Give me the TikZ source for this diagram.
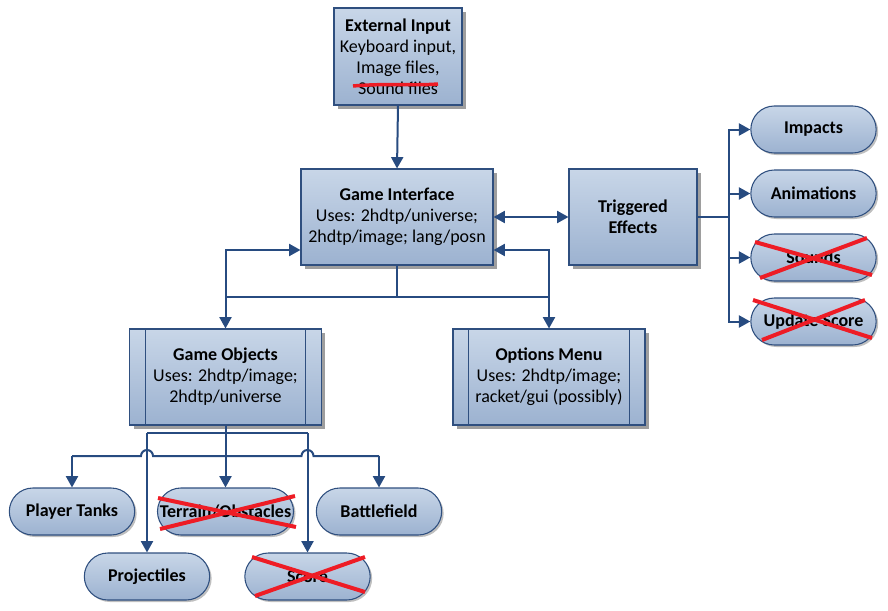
\documentclass[tikz,border=0pt]{standalone}
\usepackage{fontspec}
\setmainfont{Carlito}
\usetikzlibrary{arrows.meta,shapes.misc,shadows}
\definecolor{boxtop}{HTML}{C8D6E8}
\definecolor{boxbot}{HTML}{9CB2D0}
\definecolor{boxline}{HTML}{2F4F7F}
\definecolor{connc}{HTML}{274B80}
\definecolor{xred}{HTML}{EE1C25}
\tikzset{
  base/.style={draw=boxline, line width=0.8pt, top color=boxtop, bottom color=boxbot,
    align=center, text=black, inner sep=1pt,
    font=\fontsize{13.5}{15.75}\selectfont},
  boxn/.style={base, rectangle,
    drop shadow={shadow xshift=3pt, shadow yshift=-3pt, fill=black!38, opacity=1}},
  pill/.style={base, rounded rectangle, minimum width=96pt, minimum height=35.25pt,
    font=\fontsize{13.5}{15.75}\selectfont\bfseries,
    drop shadow={shadow xshift=1.5pt, shadow yshift=-1.5pt, fill=black!25, opacity=1}},
  conn/.style={draw=connc, line width=1.5pt},
  arr/.style={conn, -{Triangle[width=9pt,length=8.5pt]}},
  darr/.style={conn, {Triangle[width=9pt,length=8.5pt]}-{Triangle[width=9pt,length=8.5pt]}},
  redx/.style={draw=xred, line width=3pt},
  inner/.style={draw=boxline, line width=0.8pt}
}
\begin{document}
\begin{tikzpicture}[x=0.75pt,y=-0.75pt]
\useasboundingbox (0,0) rectangle (888,610);

% boxes
\node[boxn, minimum width=96pt, minimum height=72.75pt] (EI) at (398,56.5)
  {\textbf{External Input}\\Keyboard input,\\Image files,\\Sound files};
\node[boxn, minimum width=144pt, minimum height=72pt] (GI) at (397,217)
  {\textbf{Game Interface}\\Uses: 2hdtp/universe;\\2hdtp/image; lang/posn};
\node[boxn, minimum width=96pt, minimum height=72pt, font=\fontsize{13.5}{15.75}\selectfont\bfseries] (TE) at (633,217)
  {Triggered\\Effects};
\node[boxn, minimum width=143.5pt, minimum height=72pt] (GO) at (225.5,377)
  {\textbf{Game Objects}\\Uses: 2hdtp/image;\\2hdtp/universe};
\node[boxn, minimum width=144pt, minimum height=72pt] (OM) at (549,377)
  {\textbf{Options Menu}\\Uses: 2hdtp/image;\\racket/gui (possibly)};

\draw[inner] ([xshift=12pt]GO.north west) -- ([xshift=12pt]GO.south west);
\draw[inner] ([xshift=-12pt]GO.north east) -- ([xshift=-12pt]GO.south east);
\draw[inner] ([xshift=12pt]OM.north west) -- ([xshift=12pt]OM.south west);
\draw[inner] ([xshift=-12pt]OM.north east) -- ([xshift=-12pt]OM.south east);

% pills right
\node[pill] (IM) at (813.5,129.5) {Impacts};
\node[pill] (AN) at (813.5,193.5) {Animations};
\node[pill] (SO) at (813.5,257.5) {Sounds};
\node[pill] (US) at (813.5,321.5) {Update Score};

% pills bottom
\node[pill] (PT) at (72,511.5) {Player Tanks};
\node[pill, minimum width=104pt] (TO) at (225.5,511.5) {Terrain/Obstacles};
\node[pill] (BF) at (379,511.5) {Battlefield};
\node[pill] (PR) at (147,576.5) {Projectiles};
\node[pill] (SC) at (307.5,576.5) {Score};

% connectors top
\draw[arr] (EI.south) -- (GI.north);
\draw[darr] (GI.east) -- (TE.west);

\coordinate (tr) at (729,217);
\draw[conn] (TE.east) -- (tr);
\draw[arr] (tr) |- (IM.west);
\draw[arr] (tr) |- (AN.west);
\draw[arr] (tr) |- (SO.west);
\draw[arr] (tr) |- (US.west);

\coordinate (gb) at (397,297);
\coordinate (cl) at (225.5,250);
\coordinate (cr) at (549,250);
\draw[conn] (GI.south) -- (gb);
\draw[arr] (gb) -| (GO.north);
\draw[arr] (gb) -| (OM.north);
\draw[arr] (GO.north |- gb) -- (cl) -- (GI.west |- cl);
\draw[arr] (OM.north |- gb) -- (cr) -- (GI.east |- cr);

% connectors bottom
\coordinate (hA) at (147,433);
\coordinate (hB) at (307.5,433);
\coordinate (lA) at (72,456);
\coordinate (lB) at (379,456);
\draw[arr] (GO.south) -- (TO.north);
\draw[conn] (hA) -- (hB);
\draw[arr] (hA) -- (PR.north);
\draw[arr] (hB) -- (SC.north);
\draw[conn] (lA) -- (141,456) arc[start angle=180,end angle=0,radius=4.5pt]
  -- (301.5,456) arc[start angle=180,end angle=0,radius=4.5pt] -- (lB);
\draw[arr] (lA) -- (PT.north);
\draw[arr] (lB) -- (BF.north);

% red strike-outs
\draw[redx, line width=2.6pt] (353,86) .. controls (390,83) and (410,86) .. (438,84);
\draw[redx] (755,242) -- (872,275);
\draw[redx] (867,238) -- (760,278);
\draw[redx] (753,300) -- (872,338);
\draw[redx] (865,300) -- (762,340);
\draw[redx] (158,498) -- (296,527);
\draw[redx] (160,529) -- (295,496);
\draw[redx] (252,557) -- (365,592);
\draw[redx] (365,557) -- (255,596);
\end{tikzpicture}
\end{document}
